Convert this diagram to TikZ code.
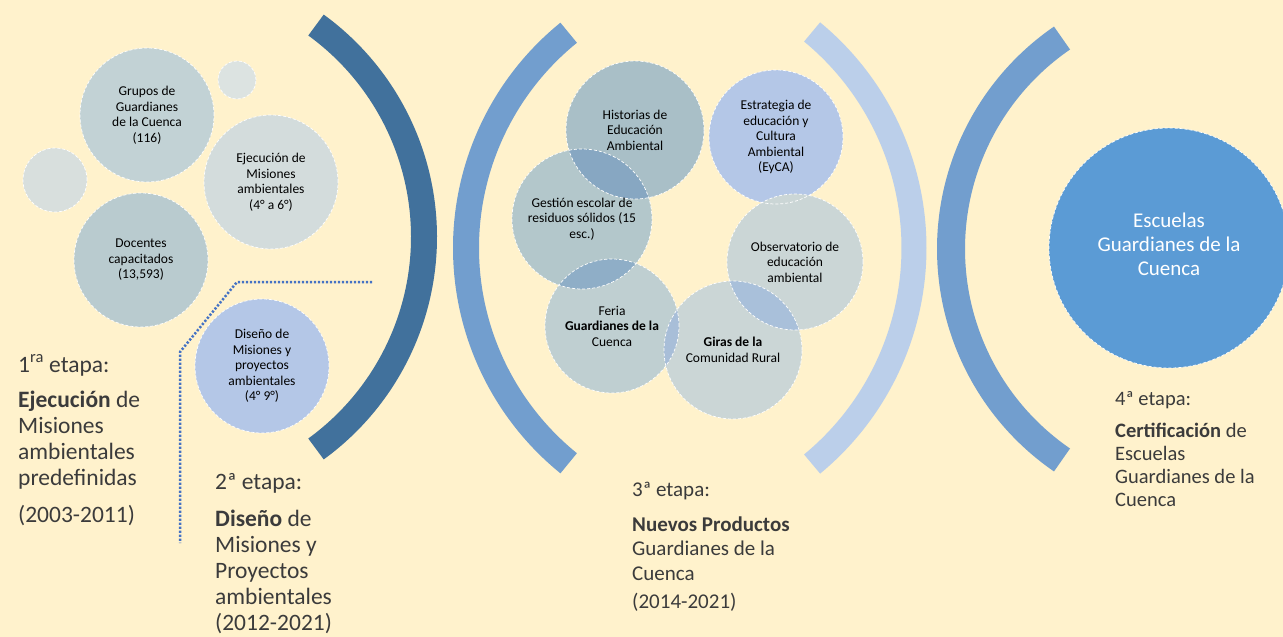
\documentclass[tikz,border=0pt]{standalone}
\usepackage{fontspec}
\setmainfont{Carlito}
\usetikzlibrary{calc}
\pgfdeclarelayer{background}
\pgfsetlayers{background,main}
\definecolor{bgc}{HTML}{FFF2CC}
\definecolor{txt}{HTML}{3B3B3B}
\definecolor{arcdark}{HTML}{41719C}
\definecolor{arcmid}{HTML}{729ECE}
\definecolor{arclight}{HTML}{BBCFEA}
\definecolor{escb}{HTML}{5B9BD5}
\definecolor{cGrupos}{HTML}{C2D2D5}
\definecolor{cSmallA}{HTML}{DCE3E1}
\definecolor{cSmallB}{HTML}{D8DFDD}
\definecolor{cEjec}{HTML}{D3DCDC}
\definecolor{cDoc}{HTML}{B9CBCF}
\definecolor{cDis}{HTML}{B4C7E7}
\definecolor{cHist}{HTML}{A9BFC7}
\definecolor{cEstr}{HTML}{B4C7E7}
\definecolor{cGest}{HTML}{B3C7CB}
\definecolor{cObs}{HTML}{CBD6D6}
\definecolor{cFeria}{HTML}{BFCFD1}
\definecolor{cGiras}{HTML}{CBD6D6}
\definecolor{ovHG}{HTML}{87A7C2}
\definecolor{ovGF}{HTML}{8FAEC7}
\definecolor{ovFG}{HTML}{A8BED8}
\definecolor{ovOG}{HTML}{A9C0DA}
\definecolor{dotblue}{HTML}{4472C4}
\begin{document}
\begin{tikzpicture}[x=1pt,y=-1pt,
  bub/.style={circle, minimum size=#1, inner sep=0pt, draw=white,
    dash pattern=on 3pt off 2pt, line width=0.7pt, align=center,
    text=black, font=\fontsize{13.5}{15.5}\selectfont},
  stagetxt/.style={anchor=base west, align=left, text=txt, inner sep=0pt},
  dotline/.style={draw=dotblue, line width=2.5pt, dash pattern=on 2.2pt off 1.8pt},
]
\useasboundingbox (0,0) rectangle (1283,637);

% ---------- circles (text nodes, outlines) ----------
\node[bub=134pt] (grupos) at (147,115) {Grupos de\\Guardianes\\de la Cuenca\\(116)};
\node[bub=38pt]  (smallA) at (237,80) {};
\node[bub=64pt]  (smallB) at (55,180) {};
\node[bub=134pt] (ejec) at (271,182) {Ejecución de\\Misiones\\ambientales\\(4° a 6°)};
\node[bub=134pt] (doc) at (141,260) {Docentes\\capacitados\\(13,593)};
\node[bub=134pt] (dis) at (262,366) {Diseño de\\Misiones y\\proyectos\\ambientales\\(4° 9°)};

\node[bub=138pt] (hist) at (635,130) {Historias de\\Educación\\Ambiental};
\node[bub=134pt] (estr) at (776,137) {Estrategia de\\educación y\\Cultura\\Ambiental\\(EyCA)};
\node[bub=140pt] (gest) at (582,219) {Gestión escolar de\\residuos sólidos (15\\esc.)};
\node[bub=136pt] (obs) at (795,262) {Observatorio de\\educación\\ambiental};
\node[bub=134pt] (feria) at (612,326) {Feria\\\textbf{Guardianes de la}\\Cuenca};
\node[bub=138pt] (giras) at (733,350) {\textbf{Giras de la}\\Comunidad Rural};

\node[bub=240pt, draw=none, text=white, font=\fontsize{21}{24}\selectfont] (esc) at (1169,244)
  {Escuelas\\Guardianes de la\\Cuenca};

% ---------- fills on background ----------
\begin{pgfonlayer}{background}
  \fill[bgc] (0,0) rectangle (1283,637);
  \fill[cGrupos] (grupos.center) circle[radius=67pt];
  \fill[cSmallA] (smallA.center) circle[radius=19pt];
  \fill[cSmallB] (smallB.center) circle[radius=32pt];
  \fill[cEjec] (ejec.center) circle[radius=67pt];
  \fill[cDoc] (doc.center) circle[radius=67pt];
  \fill[cDis] (dis.center) circle[radius=67pt];
  \fill[cHist] (hist.center) circle[radius=69pt];
  \fill[cEstr] (estr.center) circle[radius=67pt];
  \fill[cGest] (gest.center) circle[radius=70pt];
  \fill[cObs] (obs.center) circle[radius=68pt];
  \fill[cFeria] (feria.center) circle[radius=67pt];
  \fill[cGiras] (giras.center) circle[radius=69pt];
  \filldraw[fill=escb, draw=white, dash pattern=on 3pt off 2pt, line width=0.7pt]
    ($(esc.center)+(0,4)$) circle[radius=120pt];
  \begin{scope}
    \clip (hist.center) circle[radius=69pt];
    \fill[ovHG] (gest.center) circle[radius=70pt];
  \end{scope}
  \begin{scope}
    \clip (gest.center) circle[radius=70pt];
    \fill[ovGF] (feria.center) circle[radius=67pt];
  \end{scope}
  \begin{scope}
    \clip (feria.center) circle[radius=67pt];
    \fill[ovFG] (giras.center) circle[radius=69pt];
  \end{scope}
  \begin{scope}
    \clip (obs.center) circle[radius=68pt];
    \fill[ovOG] (giras.center) circle[radius=69pt];
  \end{scope}
\end{pgfonlayer}

% ---------- arcs ----------
\draw[arcdark, line width=26pt] (162,237) ++(-54:262pt) arc[start angle=-54, end angle=54, radius=262pt];
\draw[arcmid, line width=26pt] (743,248) ++(129:277pt) arc[start angle=129, end angle=231, radius=277pt];
\draw[arclight, line width=25pt] (634,248) ++(-50.5:280pt) arc[start angle=-50.5, end angle=50.5, radius=280pt];
\draw[arcmid, line width=28pt] (1207,249) ++(124.5:256pt) arc[start angle=124.5, end angle=235.5, radius=256pt];

% ---------- dotted connector ----------
\coordinate (d1) at (372,282);
\coordinate (d2) at (237,282);
\coordinate (d3) at (180,352);
\coordinate (d4) at (180,543);
\draw[dotline] (d1) -- (d2) -- (d3) -- (d4);

% ---------- stage texts (anchor = baseline of last line) ----------
\node[stagetxt, font=\fontsize{23.5}{26}\selectfont] (st1) at (18,522)
  {1\textsuperscript{ra} etapa:\\[9pt]\textbf{Ejecución} de\\Misiones\\ambientales\\predefinidas\\[11pt](2003-2011)};
\node[stagetxt, font=\fontsize{23.5}{26}\selectfont] (st2) at (215,630)
  {2ª etapa:\\[11pt]\textbf{Diseño} de\\Misiones y\\Proyectos\\ambientales\\(2012-2021)};
\node[stagetxt, font=\fontsize{21}{24.5}\selectfont] (st3) at (632,608)
  {3ª etapa:\\[10.5pt]\textbf{Nuevos Productos}\\Guardianes de la\\Cuenca\\[3.5pt](2014-2021)};
\node[stagetxt, font=\fontsize{20.5}{23}\selectfont] (st4) at (1115,506)
  {4ª etapa:\\[9pt]\textbf{Certificación} de\\Escuelas\\Guardianes de la\\Cuenca};
\end{tikzpicture}
\end{document}
